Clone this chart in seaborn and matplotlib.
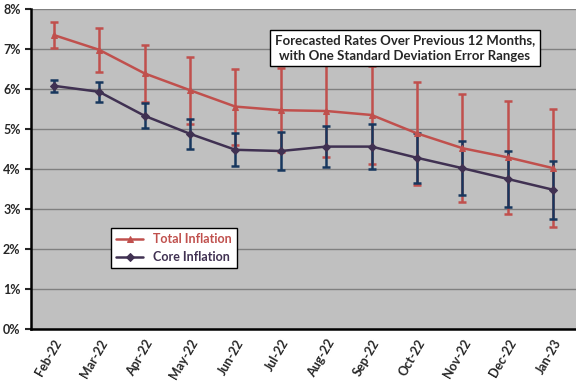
import numpy as np
import pandas as pd
import matplotlib
matplotlib.use("Agg")
import matplotlib.pyplot as plt
import seaborn as sns

months = ["Feb-22", "Mar-22", "Apr-22", "May-22", "Jun-22", "Jul-22",
          "Aug-22", "Sep-22", "Oct-22", "Nov-22", "Dec-22", "Jan-23"]
total = [7.35, 6.98, 6.39, 5.97, 5.56, 5.47, 5.45, 5.35, 4.89, 4.52, 4.29, 4.02]
total_sd = [0.33, 0.55, 0.72, 0.84, 0.95, 1.05, 1.14, 1.22, 1.29, 1.35, 1.42, 1.47]
core = [6.08, 5.93, 5.33, 4.88, 4.48, 4.45, 4.56, 4.56, 4.28, 4.02, 3.75, 3.48]
core_sd = [0.15, 0.25, 0.31, 0.37, 0.41, 0.47, 0.51, 0.57, 0.62, 0.67, 0.69, 0.73]

red = "#C0504D"
purple = "#403152"
navy = "#17375E"

df = pd.DataFrame({"x": np.arange(len(months)), "Month": months,
                   "Total": total, "Core": core})

sns.set_style("white")
plt.rcParams["font.family"] = ["Lato", "DejaVu Sans"]
plt.rcParams["font.weight"] = "bold"

fig = plt.figure(figsize=(5.76, 3.85), dpi=100)
ax = fig.add_axes([31 / 576, 1 - 329 / 385, 545 / 576, 320 / 385])
ax.set_facecolor("#C0C0C0")

# error bars
ax.errorbar(df["x"], df["Total"], yerr=total_sd, fmt="none", ecolor=red,
            elinewidth=1.8, capsize=2.8, capthick=1.8, zorder=2)
ax.errorbar(df["x"], df["Core"], yerr=core_sd, fmt="none", ecolor=navy,
            elinewidth=1.8, capsize=2.8, capthick=1.8, zorder=3)

sns.lineplot(data=df, x="x", y="Total", color=red, marker="^", markersize=5,
             markeredgecolor=red, linewidth=1.8, label="Total Inflation", ax=ax, zorder=4)
sns.lineplot(data=df, x="x", y="Core", color=purple, marker="D", markersize=4,
             markeredgecolor=purple, linewidth=1.8, label="Core Inflation", ax=ax, zorder=5)

ax.set_xlim(-0.5, len(months) - 0.5)
ax.set_ylim(0, 8)
ax.set_yticks(range(0, 9))
ax.set_yticklabels([f"{v}%" for v in range(0, 9)], fontsize=9, fontweight="bold")
ax.yaxis.grid(True, color="#808080", linewidth=1)
ax.set_axisbelow(True)

ax.set_xticks(df["x"])
ax.set_xticklabels(months, rotation=60, ha="right", rotation_mode="anchor",
                   fontsize=9, fontweight="bold")
ax.tick_params(axis="x", which="major", length=0, pad=6)
ax.set_xticks(np.arange(-0.5, len(months)), minor=True)
ax.tick_params(axis="x", which="minor", length=4, width=1.5, color="black", direction="out")
ax.tick_params(axis="y", length=4, width=1.5, direction="out", left=True)
ax.set_xlabel("")
ax.set_ylabel("")

for s in ["top", "right"]:
    ax.spines[s].set_visible(False)
for s in ["left", "bottom"]:
    ax.spines[s].set_color("black")
    ax.spines[s].set_linewidth(1.8)

leg = ax.legend(loc="upper left", bbox_to_anchor=(0.135, 0.335), frameon=True,
                fancybox=False, edgecolor="black", framealpha=1, fontsize=9,
                handlelength=2.2, borderpad=0.4, labelspacing=0.5)
leg.get_frame().set_linewidth(1)
for t, c in zip(leg.get_texts(), [red, purple]):
    t.set_color(c)
    t.set_fontweight("bold")

ax.text(0.686, 0.878, "Forecasted Rates Over Previous 12 Months,\nwith One Standard Deviation Error Ranges",
        transform=ax.transAxes, ha="center", va="center", fontsize=9.5,
        fontweight="bold", linespacing=1.3,
        bbox=dict(boxstyle="square,pad=0.35", facecolor="white", edgecolor="black", linewidth=1),
        zorder=10)

fig.savefig("out.png", dpi=100)
